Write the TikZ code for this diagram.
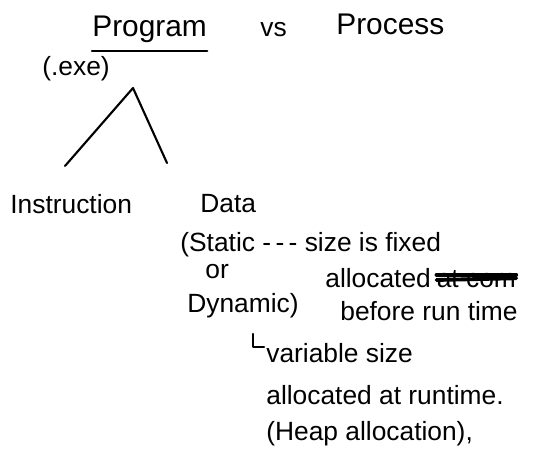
\documentclass[tikz,border=0pt]{standalone}
\usepackage{fontspec}
\setmainfont{Liberation Sans}
\usetikzlibrary{positioning}

\tikzset{
    % text styles
    heading/.style={
        font=\fontsize{17}{20}\selectfont,
        inner sep=0pt,
        anchor=base west
    },
    note/.style={
        font=\fontsize{15}{18}\selectfont,
        inner sep=0pt,
        anchor=base west
    },
    % pen strokes
    ink/.style={
        line width=1.2pt,
        draw=black,
        line cap=round,
        line join=round
    },
    scribble/.style={
        line width=2.2pt,
        draw=black,
        line cap=round
    }
}

\begin{document}
\begin{tikzpicture}[x=0.02cm, y=-0.02cm]
    \useasboundingbox (0,0) rectangle (548,466);

    % title line
    \node[heading] (prog) at (92,37) {Program};
    \node[note] (vs) at (260,37) {vs};
    \node[heading] (proc) at (336,35) {Process};
    \draw[ink] ([yshift=-8pt]prog.base west) -- ([yshift=-8pt]prog.base east);
    \node[note] (exe) at (42,76) {(.exe)};

    % program splits in two
    \coordinate (apex) at (133,88);
    \coordinate (legL) at (65,166);
    \coordinate (legR) at (167,163);
    \draw[ink] (legL) -- (apex) -- (legR);

    \node[note] (instr) at (10,214) {Instruction};
    \node[note] (data) at (200,213) {Data};

    % kinds of data
    \node[note] (static) at (180,252) {(Static {-}\,{-}\,{-} size is fixed};
    \node[note] (or) at (205,278) {or};
    \node[note] (alloc) at (325,287) {allocated};
    \node[note, right=3pt of alloc.base east, anchor=base west] (gone) {at com};
    \draw[scribble] ([yshift=4pt]gone.base west) -- ([yshift=5pt]gone.base east);
    \draw[scribble] ([yshift=7pt]gone.base west) -- ([yshift=7pt]gone.base east);
    \node[note] (dyn) at (187,312) {Dynamic)};
    \node[note] (before) at (340,320) {before run time};

    % dynamic details
    \coordinate (hookT) at (253,334);
    \coordinate (hookB) at (253,347);
    \coordinate (hookE) at (264,347);
    \draw[ink] (hookT) -- (hookB) -- (hookE);
    \node[note] (var) at (266,362) {variable size};
    \node[note] (atrun) at (266,404) {allocated at runtime.};
    \node[note] (heap) at (266,440) {(Heap allocation),};
\end{tikzpicture}
\end{document}
